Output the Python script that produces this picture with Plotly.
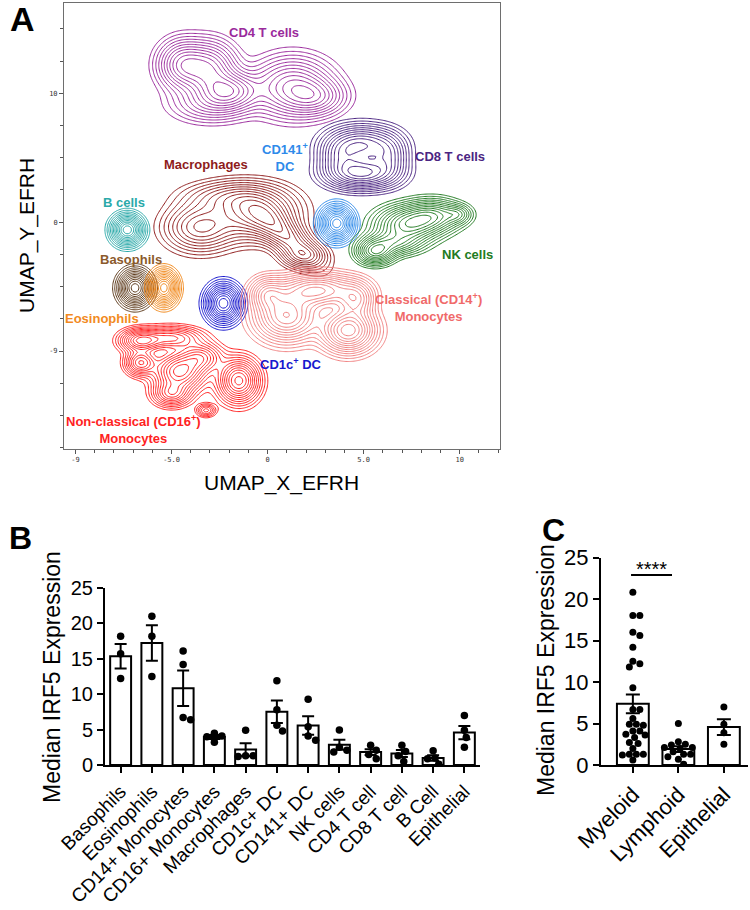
import numpy as np
import plotly.graph_objects as go

W, H = 750, 910
FONT = "Liberation Sans, Arial, sans-serif"

# ---------------- Panel A : UMAP populations (blob centres / spreads)
# each blob: (x centre, y centre, sigma x, sigma y, angle deg, weight)
cd4_t_blobs = [(-4.4, 12.2, 0.75, 1.1, 0, 1.0), (-3.0, 11.9, 0.8, 1.2, 0, 1.0),
               (-2.0, 10.2, 0.9, 0.85, 0, 1.1), (-3.0, 9.2, 1.2, 0.85, 0, 0.45),
               (1.3, 10.5, 1.2, 1.3, 0, 1.0), (2.5, 9.7, 0.9, 0.8, 0, 0.6)]
cd8_t_blobs = [(4.9, 6.0, 1.05, 0.85, 0, 0.8), (4.9, 3.8, 1.05, 0.7, 0, 1.0),
               (3.8, 5.0, 0.65, 0.9, 0, 0.4), (6.3, 5.0, 0.6, 1.0, 0, 0.4)]
macrophage_blobs = [(-3.5, -0.4, 1.05, 1.05, 0, 0.8), (-0.6, 0.7, 1.25, 1.15, 0, 1.0),
                    (0.9, -1.0, 1.6, 0.6, -55, 0.85), (-2.0, 1.9, 1.4, 0.75, 0, 0.45),
                    (1.9, -2.6, 0.65, 0.55, 0, 0.5)]
cd141_dc_blobs = [(3.6, -0.1, 0.48, 0.75, 0, 1.0)]
nk_blobs = [(7.3, -0.2, 0.95, 0.8, 0, 1.0), (8.6, 0.5, 0.85, 0.7, 0, 0.8),
            (5.6, -2.3, 0.55, 0.55, 0, 0.9), (6.5, -1.6, 0.85, 0.55, 0, 0.6),
            (9.9, 0.6, 0.42, 0.42, 0, 0.35)]
b_cell_blobs = [(-7.3, -0.6, 0.46, 0.66, 0, 1.0)]
basophil_blobs = [(-6.9, -5.1, 0.46, 0.74, 0, 1.0)]
eosinophil_blobs = [(-5.4, -5.1, 0.4, 0.74, 0, 1.0)]
cd1c_dc_blobs = [(-2.3, -6.3, 0.5, 0.82, 0, 1.0)]
classical_blobs = [(1.0, -7.3, 0.95, 1.1, 0, 0.9), (2.6, -5.3, 1.2, 0.75, 0, 0.8),
                   (4.2, -8.4, 0.8, 0.95, 0, 1.0), (0.0, -5.6, 0.55, 0.75, 0, 0.5),
                   (4.6, -6.0, 0.55, 0.8, 0, 0.5)]
nonclassical_blobs = [(-6.6, -9.2, 0.6, 0.5, 0, 0.8), (-5.0, -9.0, 0.9, 0.5, 0, 0.6),
                      (-6.6, -10.9, 0.45, 0.55, 0, 0.7), (-4.6, -11.6, 0.75, 0.85, 0, 1.0),
                      (-3.5, -10.5, 0.65, 0.65, 0, 0.6), (-1.5, -12.3, 0.6, 0.95, 0, 1.0),
                      (-5.0, -13.3, 0.55, 0.55, 0, 0.6), (-3.2, -14.6, 0.28, 0.28, 0, 0.35)]

populations = [
    ("CD4 T cells", cd4_t_blobs, "#9A2A9C", -0.2, 14.7),
    ("CD8 T cells", cd8_t_blobs, "#4B2482", 9.5, 5.1),
    ("Macrophages", macrophage_blobs, "#8E1B1B", -3.2, 4.5),
    ("CD141<sup>+</sup><br>DC", cd141_dc_blobs, "#2E8AEA", 0.9, 5.0),
    ("NK cells", nk_blobs, "#227B22", 10.4, -2.5),
    ("B cells", b_cell_blobs, "#2AA9A9", -7.5, 1.5),
    ("Basophils", basophil_blobs, "#5E3B1C", -7.1, -2.9),
    ("Eosinophils", eosinophil_blobs, "#F28A1E", -8.6, -7.45),
    ("CD1c<sup>+</sup> DC", cd1c_dc_blobs, "#1818CE", 1.2, -11.0),
    ("Classical (CD14<sup>+</sup>)<br>Monocytes", classical_blobs, "#F08282", 8.4, -6.6),
    ("Non-classical (CD16<sup>+</sup>)<br>Monocytes", nonclassical_blobs, "#FF2222", -7.0, -16.1),
]
label_colors = {"Basophils": "#8B5A2B", "Classical (CD14<sup>+</sup>)<br>Monocytes": "#F06A6A"}

x_tick_vals = [-10, -5, 0, 5, 10]
x_tick_text = ["-9", "-5.0", "0", "5.0", "10"]
y_tick_vals = [-10, 0, 10]
y_tick_text = ["-9", "0", "10"]

# ---------------- Panel B data
b_categories = ["Basophils", "Eosinophils", "CD14+ Monocytes", "CD16+ Monocytes",
                "Macrophages", "CD1c+ DC", "CD141+ DC", "NK cells", "CD4 T cell",
                "CD8 T cell", "B Cell", "Epithelial"]
basophils = [18.2, 15.7, 12.2]
eosinophils = [21.0, 18.2, 12.5]
cd14_mono = [16.1, 14.2, 6.4, 6.7]
cd16_mono = [4.0, 3.2, 4.1, 4.5]
macrophages = [4.9, 1.3, 1.2, 1.3]
cd1c_dc = [11.9, 7.8, 4.8, 5.6]
cd141_dc = [9.3, 5.4, 3.5, 4.1]
nk_cells = [4.95, 2.5, 1.85, 2.1]
cd4_t = [2.8, 2.1, 1.5, 0.9]
cd8_t = [2.8, 1.9, 1.3, 0.5]
b_cell = [2.0, 1.0, 0.9, 0.1]
epithelial = [7.0, 4.9, 3.9, 2.5]
b_groups = [basophils, eosinophils, cd14_mono, cd16_mono, macrophages, cd1c_dc,
            cd141_dc, nk_cells, cd4_t, cd8_t, b_cell, epithelial]

# ---------------- Panel C data
c_categories = ["Myeloid", "Lymphoid", "Epithelial"]
myeloid = [20.8, 18.0, 18.0, 16.0, 15.6, 14.2, 12.2, 11.8, 12.5, 9.3, 6.7, 6.7, 5.6,
           4.9, 4.8, 4.9, 4.1, 4.1, 3.6, 3.7, 3.3, 2.6, 2.7, 2.0, 1.3, 1.3, 1.2, 1.3, 0.6]
lymphoid = [5.0, 2.8, 2.5, 2.4, 2.1, 2.1, 2.0, 1.3, 1.3, 1.6, 0.7, 0.1, 1.0]
c_groups = [myeloid, lymphoid, epithelial]
sig_label = "****"


def density(blobs, X, Y):
    Z = np.zeros_like(X)
    for cx, cy, sx, sy, ang, w in blobs:
        t = np.deg2rad(ang)
        dx, dy = X - cx, Y - cy
        u = dx * np.cos(t) + dy * np.sin(t)
        v = -dx * np.sin(t) + dy * np.cos(t)
        Z += w * np.exp(-0.5 * ((u / sx) ** 2 + (v / sy) ** 2))
    return Z / Z.max()


def beeswarm(values, px_per_unit, px_per_cat, diam):
    placed = []
    offs = [0.0] * len(values)
    order = sorted(range(len(values)), key=lambda i: -values[i])
    for i in order:
        yp = values[i] * px_per_unit
        cands = [0.0]
        for k in range(1, 40):
            cands += [k * diam / 4.0, -k * diam / 4.0]
        for c in cands:
            if all((c - px) ** 2 + (yp - py) ** 2 >= (diam * 0.95) ** 2 for px, py in placed):
                offs[i] = c / px_per_cat
                placed.append((c, yp))
                break
    return offs


def sem(v):
    v = np.asarray(v, float)
    return float(v.std(ddof=1) / np.sqrt(len(v)))


fig = go.Figure()

# ---- Panel A contours (square-root density levels)
lo, hi, n_levels = 0.2, 0.95, 12
for name, blobs, col, lx, ly in populations:
    arr = np.array(blobs)
    spread = 3.4 * arr[:, 2:4].max()
    xs = np.arange(arr[:, 0].min() - spread, arr[:, 0].max() + spread, 0.12)
    ys = np.arange(arr[:, 1].min() - spread, arr[:, 1].max() + spread, 0.18)
    X, Y = np.meshgrid(xs, ys)
    Z = np.round(np.sqrt(density(blobs, X, Y)), 4)
    fig.add_trace(go.Contour(
        x=np.round(xs, 3), y=np.round(ys, 3), z=Z, xaxis="x", yaxis="y",
        contours=dict(coloring="lines", start=lo, end=hi, size=(hi - lo) / (n_levels - 1)),
        colorscale=[[0, col], [1, col]], showscale=False,
        line=dict(width=1.0, smoothing=0.6), hoverinfo="skip"))
    fig.add_annotation(x=lx, y=ly, xref="x", yref="y", text="<b>%s</b>" % name,
                       showarrow=False, font=dict(family=FONT, size=13,
                                                  color=label_colors.get(name, col)))

# ---- Panel B
b_x = list(range(len(b_categories)))
b_means = [float(np.mean(g)) for g in b_groups]
b_sems = [sem(g) for g in b_groups]
fig.add_trace(go.Bar(x=b_x, y=b_means, width=0.67, xaxis="x2", yaxis="y2",
                     marker=dict(color="white", line=dict(color="black", width=2)),
                     error_y=dict(type="data", array=b_sems, visible=True,
                                  color="black", thickness=2, width=6)))
bx, by = [], []
for i, g in enumerate(b_groups):
    offs = beeswarm(g, 7.06, 31.25, 7.5)
    bx += [i + o for o in offs]
    by += g
fig.add_trace(go.Scatter(x=bx, y=by, mode="markers", xaxis="x2", yaxis="y2",
                         marker=dict(color="black", size=7.5)))

# ---- Panel C
c_x = list(range(len(c_categories)))
c_means = [float(np.mean(g)) for g in c_groups]
c_sems = [sem(g) for g in c_groups]
fig.add_trace(go.Bar(x=c_x, y=c_means, width=0.70, xaxis="x3", yaxis="y3",
                     marker=dict(color="white", line=dict(color="black", width=2)),
                     error_y=dict(type="data", array=c_sems, visible=True,
                                  color="black", thickness=2, width=7)))
cx_, cy_ = [], []
for i, g in enumerate(c_groups):
    offs = beeswarm(g, 8.3, 45.6, 7.0)
    cx_ += [i + o for o in offs]
    cy_ += g
fig.add_trace(go.Scatter(x=cx_, y=cy_, mode="markers", xaxis="x3", yaxis="y3",
                         marker=dict(color="black", size=7)))

fig.add_shape(type="line", xref="x3", yref="y3", x0=-0.04, x1=0.86, y0=22.9, y1=22.9,
              line=dict(color="black", width=2))
fig.add_annotation(x=0.41, y=23.6, xref="x3", yref="y3", text=sig_label, showarrow=False,
                   font=dict(family=FONT, size=20, color="black"))

# ---- axes
def px2fx(px):
    return px / W


def px2fy(py):
    return 1 - py / H


thin = dict(family="DejaVu Sans Mono, monospace", size=7, color="#333")
fig.update_layout(
    template="none",
    width=W, height=H, margin=dict(l=0, r=0, t=0, b=0, autoexpand=False),
    paper_bgcolor="white", plot_bgcolor="white", showlegend=False,
    xaxis=dict(domain=[px2fx(64), px2fx(500)], range=[-10.6, 12.1], showgrid=False,
               zeroline=False, showline=True, mirror=True, linecolor="#6e6e6e", linewidth=1,
               ticks="outside", ticklen=4, tickcolor="#555", tickvals=x_tick_vals,
               ticktext=x_tick_text, tickfont=thin, automargin=False,
               minor=dict(dtick=1, tick0=0, ticks="outside", ticklen=3, tickcolor="#555",
                          showgrid=False)),
    yaxis=dict(domain=[px2fy(449), px2fy(3)], range=[-17.6, 17.0], showgrid=False,
               zeroline=False, showline=True, mirror=True, linecolor="#6e6e6e", linewidth=1,
               ticks="outside", ticklen=4, tickcolor="#555", tickvals=y_tick_vals,
               ticktext=y_tick_text, tickfont=thin, automargin=False,
               minor=dict(dtick=2.5, tick0=0, ticks="outside", ticklen=3, tickcolor="#555",
                          showgrid=False)),
    xaxis2=dict(domain=[px2fx(105), px2fx(480)], range=[-0.5, 11.5], showgrid=False,
                zeroline=False, showline=True, linecolor="black", linewidth=2,
                ticks="outside", ticklen=6, tickwidth=2, tickcolor="black",
                tickvals=b_x, ticktext=b_categories, tickangle=-45, automargin=False,
                tickfont=dict(family=FONT, size=19, color="black"), anchor="y2"),
    yaxis2=dict(domain=[px2fy(765), px2fy(588)], range=[0, 25], showgrid=False,
                zeroline=False, showline=True, linecolor="black", linewidth=2,
                ticks="outside", ticklen=6, tickwidth=2, tickcolor="black",
                tickvals=[0, 5, 10, 15, 20, 25], automargin=False,
                tickfont=dict(family=FONT, size=20, color="black"), anchor="x2"),
    xaxis3=dict(domain=[px2fx(601), px2fx(748)], range=[-0.7, 2.53], showgrid=False,
                zeroline=False, showline=True, linecolor="black", linewidth=2,
                ticks="outside", ticklen=6, tickwidth=2, tickcolor="black",
                tickvals=c_x, ticktext=c_categories, tickangle=-45, automargin=False,
                tickfont=dict(family=FONT, size=22, color="black"), anchor="y3"),
    yaxis3=dict(domain=[px2fy(765), px2fy(557.5)], range=[0, 25], showgrid=False,
                zeroline=False, showline=True, linecolor="black", linewidth=2,
                ticks="outside", ticklen=6, tickwidth=2, tickcolor="black",
                tickvals=[0, 5, 10, 15, 20, 25], automargin=False,
                tickfont=dict(family=FONT, size=22, color="black"), anchor="x3"),
)

# titles & panel letters
def ann(text, x, y, size, angle=0, bold=False):
    fig.add_annotation(x=px2fx(x), y=px2fy(y), xref="paper", yref="paper",
                       text=("<b>%s</b>" % text) if bold else text, showarrow=False,
                       textangle=angle, xanchor="center", yanchor="middle",
                       font=dict(family=FONT, size=size, color="black"))

ann("UMAP_X_EFRH", 281, 483, 21)
ann("UMAP_Y_EFRH", 27, 236, 21, angle=-90)
ann("Median IRF5 Expression", 52, 677, 23, angle=-90)
ann("Median IRF5 Expression", 546, 670, 23, angle=-90)
ann("A", 22, 19, 34, bold=True)
ann("B", 20, 538, 32, bold=True)
ann("C", 553, 530, 32, bold=True)

fig.write_html("out.html", config={"displayModeBar": False},
               post_script="document.body.style.margin='0';"
               "document.body.style.padding='0';document.body.style.overflow='hidden';")
